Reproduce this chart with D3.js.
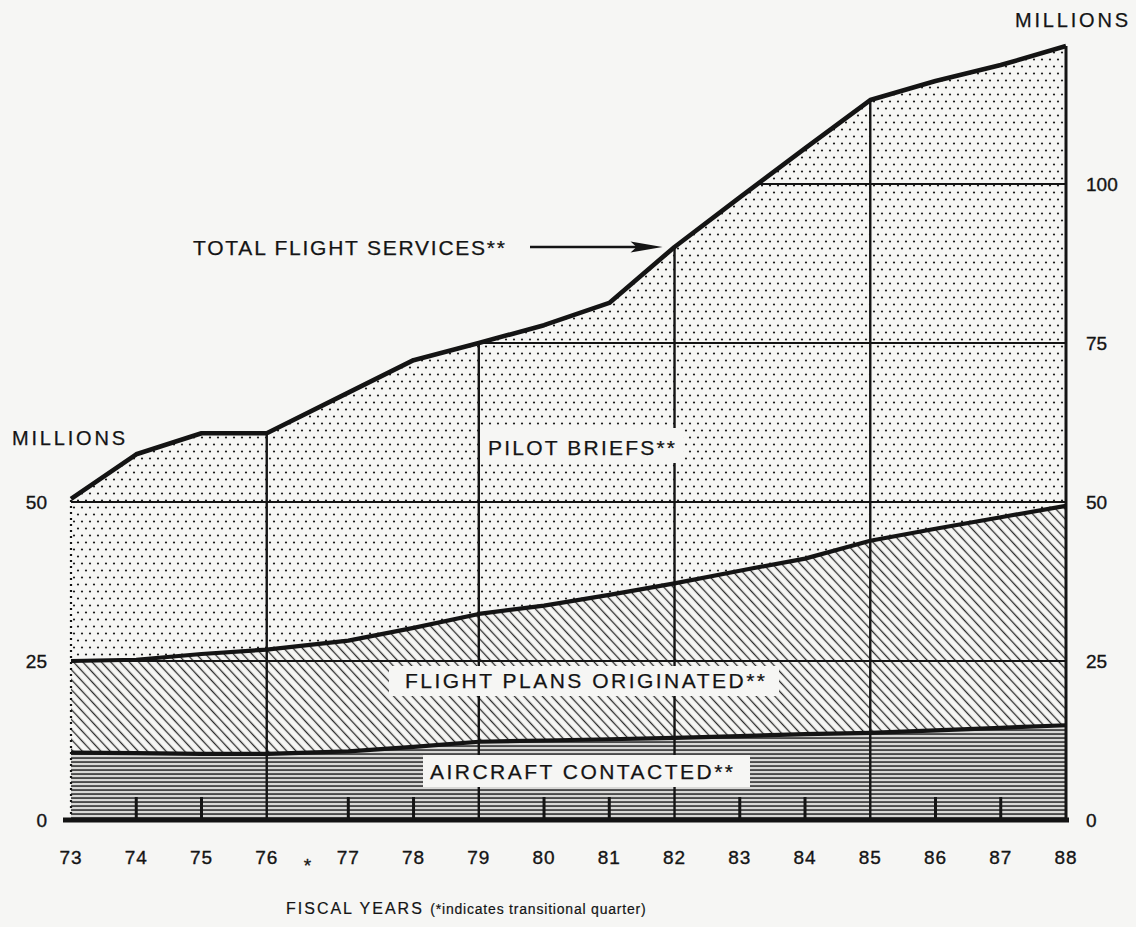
<!DOCTYPE html>
<html><head><meta charset="utf-8">
<script src="https://cdn.jsdelivr.net/npm/d3@7"></script>
<style>
html,body{margin:0;padding:0;background:#f6f6f4;}
svg{display:block;}
text{font-family:"Liberation Sans",Arial,Helvetica,sans-serif;fill:#141414;}
</style></head><body>
<svg id="c" width="1136" height="927"></svg>
<script>
// ---------- DATA (millions) ----------
const years = [73,74,75,76,77,78,79,80,81,82,83,84,85,86,87,88];
const yearLabels = ["73","74","75","76","77","78","79","80","81","82","83","84","85","86","87","88"];
const aircraftContacted     = [10.6,10.5,10.4,10.4,10.8,11.5,12.3,12.5,12.7,12.9,13.2,13.5,13.7,14.1,14.5,14.9];
const flightPlansOriginated = [14.4,14.7,15.7,16.4,17.4,18.7,20.1,21.2,22.7,24.3,26.0,27.6,30.2,31.7,33.1,34.5];
const pilotBriefs           = [25.5,32.3,34.7,34.0,39.0,42.1,42.6,44.1,45.9,52.9,58.7,64.5,69.3,70.4,71.1,72.3];
const seriesKeys   = ["aircraft","plans","briefs"];
const seriesLabels = ["AIRCRAFT CONTACTED**","FLIGHT PLANS ORIGINATED**","PILOT BRIEFS**"];
const totalLabel   = "TOTAL FLIGHT SERVICES**";
const leftTicks  = [0,25,50];
const rightTicks = [0,25,50,75,100];
const gridValues = [25,50,75,100];
const gridYears  = [76,79,82,85];
const minorTickYears = [74,75,77,78,80,81,83,84,86,87];
const tqAfterYear = 76;   // transitional quarter between FY76 and FY77
const tqLength = 0.25;
const axisTitle = "MILLIONS";
const footYears = "FISCAL YEARS ";
const footNote  = "(*indicates transitional quarter)";

// ---------- SETUP ----------
const W = 1136, H = 927;
const BG = "#f6f6f4", INK = "#141414";
const svg = d3.select("#c");
svg.append("rect").attr("width",W).attr("height",H).attr("fill",BG);

const xv = yr => yr > tqAfterYear ? yr + tqLength : yr;
const x = d3.scaleLinear().domain([xv(years[0]), xv(years[years.length-1])]).range([71,1066]);
const y = d3.scaleLinear().domain([0,100]).range([820,184]);

const rows = years.map((yr,i)=>({year:yr, aircraft:aircraftContacted[i], plans:flightPlansOriginated[i], briefs:pilotBriefs[i]}));
const stacked = d3.stack().keys(seriesKeys)(rows);
const totals = rows.map(r=>r.aircraft+r.plans+r.briefs);
const totalAt = yr => totals[years.indexOf(yr)];

// ---------- PATTERNS ----------
const defs = svg.append("defs");
const pDots = defs.append("pattern").attr("id","dots").attr("patternUnits","userSpaceOnUse")
  .attr("width",8).attr("height",14);
pDots.append("rect").attr("width",8).attr("height",14).attr("fill",BG);
pDots.append("circle").attr("cx",2).attr("cy",3.5).attr("r",1.1).attr("fill","#1c1c1c");
pDots.append("circle").attr("cx",6).attr("cy",10.5).attr("r",1.1).attr("fill","#1c1c1c");

const pHatch = defs.append("pattern").attr("id","hatch").attr("patternUnits","userSpaceOnUse")
  .attr("width",10).attr("height",6.8).attr("patternTransform","rotate(47)");
pHatch.append("rect").attr("width",10).attr("height",6.8).attr("fill",BG);
pHatch.append("rect").attr("y",2.7).attr("width",10).attr("height",1.3).attr("fill","#2a2a2a");

const pHoriz = defs.append("pattern").attr("id","horiz").attr("patternUnits","userSpaceOnUse")
  .attr("width",10).attr("height",4);
pHoriz.append("rect").attr("width",10).attr("height",4).attr("fill","#d8d8d6");
pHoriz.append("rect").attr("y",1.2).attr("width",10).attr("height",1.7).attr("fill","#3a3a3a");

const fills = {aircraft:"url(#horiz)", plans:"url(#hatch)", briefs:"url(#dots)"};

// ---------- AREAS ----------
const area = d3.area().x(d=>x(xv(d.data.year))).y0(d=>y(d[0])).y1(d=>y(d[1]));
svg.append("g").selectAll("path").data(stacked).join("path")
  .attr("d",area).attr("fill",d=>fills[d.key]);

// clip = total area
const totalArea = d3.area().x((d,i)=>x(xv(years[i]))).y0(y(0)).y1(d=>y(d));
defs.append("clipPath").attr("id","clipTotal").append("path").attr("d",totalArea(totals));

// ---------- GRID ----------
const grid = svg.append("g").attr("clip-path","url(#clipTotal)").attr("stroke",INK);
grid.selectAll("line.h").data(gridValues).join("line").attr("class","h")
  .attr("x1",x.range()[0]).attr("x2",x.range()[1]).attr("y1",d=>y(d)).attr("y2",d=>y(d)).attr("stroke-width",2.2);
grid.selectAll("line.v").data(gridYears).join("line").attr("class","v")
  .attr("x1",d=>x(xv(d))).attr("x2",d=>x(xv(d))).attr("y1",y(0)).attr("y2",d=>y(totalAt(d))).attr("stroke-width",2.4);

// left (dotted) and right edges
svg.append("line").attr("x1",x(xv(years[0]))).attr("x2",x(xv(years[0])))
  .attr("y1",y(0)).attr("y2",y(totals[0])).attr("stroke",INK).attr("stroke-width",2.2).attr("stroke-dasharray","2,4");
svg.append("line").attr("x1",x(xv(years[years.length-1]))).attr("x2",x(xv(years[years.length-1])))
  .attr("y1",y(0)).attr("y2",y(totals[totals.length-1])).attr("stroke",INK).attr("stroke-width",3);

// ---------- BOUNDARY LINES ----------
const topLine = d3.line().x(d=>x(xv(d.data.year))).y(d=>y(d[1]));
svg.append("g").selectAll("path").data(stacked).join("path")
  .attr("d",topLine).attr("fill","none").attr("stroke",INK)
  .attr("stroke-width",(d,i)=>i===2?4.6:4.2).attr("stroke-linejoin","round");

// baseline
svg.append("line").attr("x1",63).attr("x2",1069).attr("y1",y(0)).attr("y2",y(0))
  .attr("stroke",INK).attr("stroke-width",5);
// minor ticks
svg.append("g").selectAll("line").data(minorTickYears).join("line")
  .attr("x1",d=>x(xv(d))).attr("x2",d=>x(xv(d))).attr("y1",y(0)).attr("y2",y(0)-23)
  .attr("stroke",INK).attr("stroke-width",3);

// ---------- AXES (labels) ----------
const styleAxis = g => { g.select(".domain").remove(); g.selectAll(".tick line").remove();
  g.selectAll("text").attr("font-family",'"Liberation Sans",Arial,sans-serif').attr("fill",INK)
   .attr("stroke",INK).attr("stroke-width",0.35); };
svg.append("g").attr("transform","translate(54,0)")
  .call(d3.axisLeft(y).tickValues(leftTicks).tickSize(0).tickPadding(7).tickFormat(d3.format("d")))
  .call(styleAxis).selectAll("text").attr("font-size",19).attr("dy","0.36em");
svg.append("g").attr("transform","translate(1079,0)")
  .call(d3.axisRight(y).tickValues(rightTicks).tickSize(0).tickPadding(7).tickFormat(d3.format("d")))
  .call(styleAxis).selectAll("text").attr("font-size",19).attr("dy","0.36em");
svg.append("g").attr("transform","translate(0,"+(y(0)+30)+")")
  .call(d3.axisBottom(d3.scalePoint().domain(yearLabels).range([0,1]))
     .tickSize(0).tickPadding(0))
  .call(g=>g.selectAll(".tick").attr("transform",(d,i)=>"translate("+x(xv(years[i]))+",0)"))
  .call(styleAxis).selectAll("text").attr("font-size",19).attr("dy","0.71em").attr("letter-spacing",1);
// transitional quarter star
svg.append("text").attr("x",(x(xv(tqAfterYear))+x(xv(tqAfterYear+1)))/2).attr("y",872)
  .attr("text-anchor","middle").attr("font-size",19).attr("stroke",INK).attr("stroke-width",0.3).text("*");

// axis titles
svg.append("text").attr("x",12).attr("y",445).attr("font-size",20).attr("textLength",113)
  .attr("lengthAdjust","spacing").attr("stroke",INK).attr("stroke-width",0.25).text(axisTitle);
svg.append("text").attr("x",1015).attr("y",27).attr("font-size",20).attr("textLength",113)
  .attr("lengthAdjust","spacing").attr("stroke",INK).attr("stroke-width",0.25).text(axisTitle);

// footer
const ft = svg.append("text").attr("x",286).attr("y",914).attr("stroke",INK).attr("stroke-width",0.2);
ft.append("tspan").attr("font-size",16).attr("letter-spacing",2).text(footYears);
ft.append("tspan").attr("font-size",14).attr("letter-spacing",0.8).text(footNote);

// ---------- SERIES LABELS ----------
const labels = [
  {key:"briefs",  x:488, y:455, w:187, box:[480,428,203,35]},
  {key:"plans",   x:405, y:688, w:360, box:[389,666,390,30]},
  {key:"aircraft",x:430, y:779, w:303, box:[423,755,327,32]}
];
const lg = svg.append("g");
labels.forEach(l=>{
  lg.append("rect").attr("x",l.box[0]).attr("y",l.box[1]).attr("width",l.box[2]).attr("height",l.box[3]).attr("fill",BG);
  lg.append("text").attr("x",l.x).attr("y",l.y).attr("font-size",21).attr("textLength",l.w)
    .attr("lengthAdjust","spacing").attr("stroke",INK).attr("stroke-width",0.25)
    .text(seriesLabels[seriesKeys.indexOf(l.key)]);
});

// total label + arrow
const tipX = x(xv(82)) - 12, tipY = y(totalAt(82));
svg.append("text").attr("x",193).attr("y",tipY+8).attr("font-size",21).attr("textLength",312)
  .attr("lengthAdjust","spacing").attr("stroke",INK).attr("stroke-width",0.25).text(totalLabel);
svg.append("line").attr("x1",530).attr("x2",tipX-25).attr("y1",tipY).attr("y2",tipY)
  .attr("stroke",INK).attr("stroke-width",2.6);
svg.append("path").attr("d",`M${tipX},${tipY} L${tipX-32},${tipY-5.5} L${tipX-26},${tipY} L${tipX-32},${tipY+5.5} Z`)
  .attr("fill",INK);
</script>
</body></html>
